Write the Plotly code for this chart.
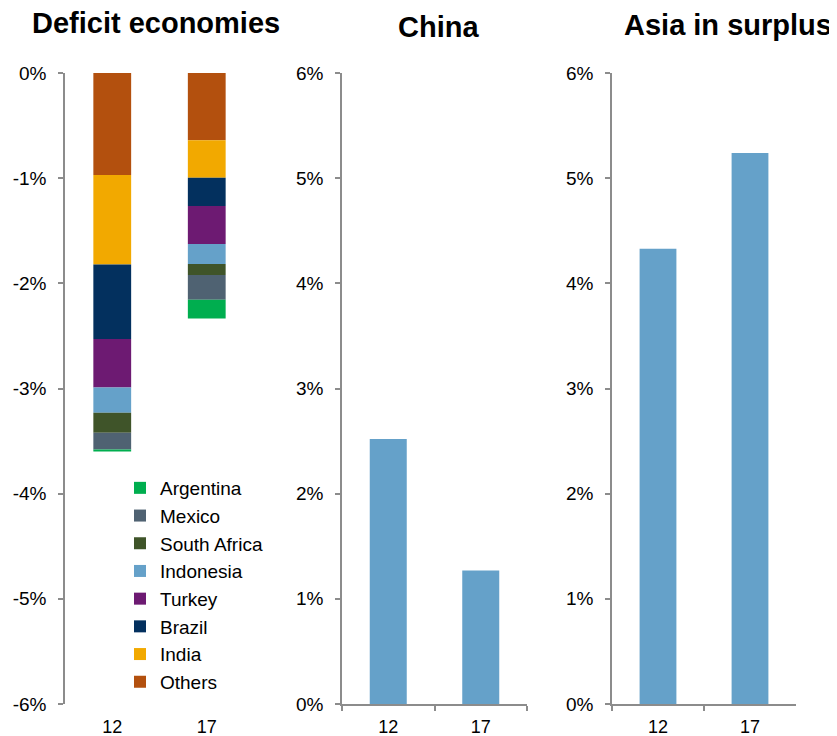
import plotly.graph_objects as go

# ---------------- data ----------------
years = ["12", "17"]

deficit_names = ["Others", "India", "Brazil", "Turkey", "Indonesia",
                 "South Africa", "Mexico", "Argentina"]
others = [-0.97, -0.64]
india = [-0.85, -0.355]
brazil = [-0.71, -0.27]
turkey = [-0.46, -0.36]
indonesia = [-0.24, -0.19]
south_africa = [-0.19, -0.105]
mexico = [-0.16, -0.235]
argentina = [-0.02, -0.18]

china = [2.52, 1.27]
asia_surplus = [4.33, 5.24]

deficit_tickvals = [-6, -5, -4, -3, -2, -1, 0]
deficit_ticktext = ["-6%", "-5%", "-4%", "-3%", "-2%", "-1%", "0%"]
surplus_tickvals = [0, 1, 2, 3, 4, 5, 6]
surplus_ticktext = ["0%", "1%", "2%", "3%", "4%", "5%", "6%"]

panel_titles = ["Deficit economies", "China", "Asia in surplus"]

# ---------------- style ----------------
PAGE_OFF = 8          # default body margin of the html page
W, H = 837 - PAGE_OFF, 736 - PAGE_OFF
FONT = "Liberation Sans, Arial, sans-serif"
AXIS_COL = "#8C8C8C"
BAR_BLUE = "#65A1C9"
deficit_colors = ["#B3500E", "#F2A900", "#03305E", "#6D1A72", "#65A1C9",
                  "#3F5429", "#4F6272", "#00AE4F"]
deficit_values = [others, india, brazil, turkey, indonesia,
                  south_africa, mexico, argentina]


def px_x(p):
    return (p - PAGE_OFF) / W


def px_y(p):
    return 1 - (p - PAGE_OFF) / H


fig = go.Figure()

for name, vals, col in zip(deficit_names, deficit_values, deficit_colors):
    fig.add_trace(go.Bar(x=years, y=vals, name=name, marker_color=col,
                         marker_line_width=0, xaxis="x", yaxis="y"))

fig.add_trace(go.Bar(x=years, y=china, marker_color=BAR_BLUE, marker_line_width=0,
                     showlegend=False, xaxis="x2", yaxis="y2"))
fig.add_trace(go.Bar(x=years, y=asia_surplus, marker_color=BAR_BLUE, marker_line_width=0,
                     showlegend=False, xaxis="x3", yaxis="y3"))

ydom = [px_y(704), px_y(73)]
dom1 = [px_x(65), px_x(254)]
dom2 = [px_x(342), px_x(527)]
dom3 = [px_x(612), px_x(796)]

ytickfont = dict(family=FONT, size=19, color="#000000")
xtickfont = dict(family=FONT, size=18, color="#000000")

yaxis_common = dict(showgrid=False, zeroline=False, showline=True, linecolor=AXIS_COL,
                    linewidth=1.5, ticks="outside", ticklen=5, tickcolor=AXIS_COL,
                    tickwidth=1.5, tickfont=ytickfont, ticklabelstandoff=8,
                    domain=ydom, automargin=False)

xaxis_common = dict(type="category", showgrid=False, zeroline=False, tickfont=xtickfont,
                    range=[-0.5, 1.5], automargin=False)

fig.update_layout(
    width=W, height=H,
    margin=dict(l=0, r=0, t=0, b=0),
    paper_bgcolor="white", plot_bgcolor="white",
    barmode="relative", bargap=0.6,
    font=dict(family=FONT, color="#000000"),
    xaxis=dict(**xaxis_common, domain=dom1, anchor="y", showline=False, ticks="",
               ticklabelstandoff=10),
    xaxis4=dict(overlaying="x", side="top", anchor="y", type="linear", range=[-0.5, 1.5],
                tickvals=[-0.5, 0.5, 1.5], showticklabels=False, showgrid=False,
                zeroline=False, showline=True, linecolor=AXIS_COL, linewidth=1.5,
                ticks="inside", ticklen=5, tickcolor=AXIS_COL, tickwidth=1.5,
                automargin=False),
    yaxis=dict(**yaxis_common, anchor="x", range=[-6, 0],
               tickvals=deficit_tickvals, ticktext=deficit_ticktext),
    xaxis2=dict(**xaxis_common, domain=dom2, anchor="y2", showline=True, linecolor=AXIS_COL,
                linewidth=1.5, ticks="outside", ticklen=5, tickcolor=AXIS_COL, tickwidth=1.5,
                tickson="boundaries", ticklabelstandoff=6),
    yaxis2=dict(**yaxis_common, anchor="x2", range=[0, 6],
                tickvals=surplus_tickvals, ticktext=surplus_ticktext),
    xaxis3=dict(**xaxis_common, domain=dom3, anchor="y3", showline=True, linecolor=AXIS_COL,
                linewidth=1.5, ticks="outside", ticklen=5, tickcolor=AXIS_COL, tickwidth=1.5,
                tickson="boundaries", ticklabelstandoff=6),
    yaxis3=dict(**yaxis_common, anchor="x3", range=[0, 6],
                tickvals=surplus_tickvals, ticktext=surplus_ticktext),
    legend=dict(x=px_x(120), y=px_y(469), xanchor="left", yanchor="top",
                traceorder="reversed", bgcolor="rgba(0,0,0,0)", borderwidth=0,
                font=dict(family=FONT, size=19, color="#000000")),
    showlegend=True,
)

title_pos = [(156, 23), (438, 27), (728, 25)]
for txt, (cx, cy) in zip(panel_titles, title_pos):
    fig.add_annotation(text="<b>%s</b>" % txt, x=px_x(cx), y=px_y(cy), xref="paper",
                       yref="paper", xanchor="center", yanchor="middle", showarrow=False,
                       font=dict(family=FONT, size=29, color="#000000"))

fig.write_html("out.html")
